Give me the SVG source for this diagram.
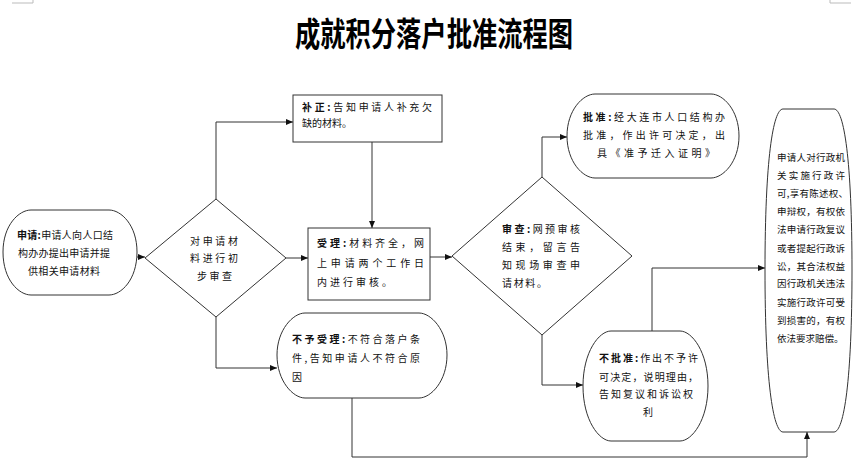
<svg xmlns="http://www.w3.org/2000/svg" width="860" height="468" viewBox="0 0 860 468">
<style>
.shape{fill:#fff;stroke:#333;stroke-width:1}
.conn{fill:none;stroke:#333;stroke-width:1}
.t{font-family:"Noto Sans CJK SC","Noto Sans",sans-serif;font-size:10px;fill:#111}
.r{font-size:9.5px}
.b{font-weight:bold}
.title{font-family:"Noto Sans CJK SC","Noto Sans",sans-serif;font-size:33px;font-weight:bold;fill:#000}
.corner{fill:none;stroke:#bbb;stroke-width:1}
</style>
<defs>
<marker id="arr" markerWidth="8" markerHeight="8" refX="7" refY="4" orient="auto" markerUnits="userSpaceOnUse">
<path d="M0,1 L7,4 L0,7 Z" fill="#111"/>
</marker>
</defs>
<rect width="860" height="468" fill="#fff"/>
<polyline class="corner" points="12,3 33,3 33,0"/>
<polyline class="corner" points="851,3 830,3 830,0"/>
<text class="title" x="295" y="46" textLength="278" lengthAdjust="spacingAndGlyphs">成就积分落户批准流程图</text>

<g id="connectors">
<path class="conn" d="M137,257 H145" marker-end="url(#arr)"/>
<path class="conn" d="M216,199 V122 H293" marker-end="url(#arr)"/>
<path class="conn" d="M372,142 V228" marker-end="url(#arr)"/>
<path class="conn" d="M286,258 H308" marker-end="url(#arr)"/>
<path class="conn" d="M216,317 V368 H277" marker-end="url(#arr)"/>
<path class="conn" d="M430,257 H452" marker-end="url(#arr)"/>
<path class="conn" d="M542,177 V137 H567" marker-end="url(#arr)"/>
<path class="conn" d="M542,335 V385 H583" marker-end="url(#arr)"/>
<path class="conn" d="M652,331 V268 H765" marker-end="url(#arr)"/>
<path class="conn" d="M352,398 V457 H807 V432" marker-end="url(#arr)"/>
</g>

<g id="node-apply">
<path class="shape" d="M31,210 H109 C121,210 137,225 137,252 C137,280 121,295 109,295 H31 C19,295 3,280 3,252 C3,225 19,210 31,210 Z"/>
<text class="t" x="17" y="239" textLength="96"><tspan class="b">申请:</tspan>申请人向人口结</text>
<text class="t" x="18" y="257" textLength="92">构办办提出申请并提</text>
<text class="t" x="28" y="275" textLength="72">供相关申请材料</text>
</g>

<g id="node-check">
<polygon class="shape" points="216,199 286,258 216,317 145,258"/>
<text class="t" x="190" y="245" textLength="48">对申请材</text>
<text class="t" x="190" y="262" textLength="48">料进行初</text>
<text class="t" x="197" y="280" textLength="35">步审查</text>
</g>

<g id="node-supplement">
<rect class="shape" x="293" y="95" width="149" height="47"/>
<text class="t" x="302" y="111" textLength="130"><tspan class="b">补正:</tspan>告知申请人补充欠</text>
<text class="t" x="302" y="127">缺的材料。</text>
</g>

<g id="node-accept">
<rect class="shape" x="308" y="228" width="122" height="72"/>
<text class="t" x="317" y="247" textLength="107"><tspan class="b">受理:</tspan>材料齐全，网</text>
<text class="t" x="317" y="267" textLength="107">上申请两个工作日</text>
<text class="t" x="317" y="286" textLength="75">内进行审核。</text>
</g>

<g id="node-reject-accept">
<path class="shape" d="M305,313 H419 C431,313 447,330 447,355 C447,381 431,398 419,398 H305 C293,398 277,381 277,355 C277,330 293,313 305,313 Z"/>
<text class="t" x="292" y="343" textLength="128"><tspan class="b">不予受理:</tspan>不符合落户条</text>
<text class="t" x="292" y="362" textLength="128">件,告知申请人不符合原</text>
<text class="t" x="292" y="381">因</text>
</g>

<g id="node-review">
<polygon class="shape" points="542,177 632,256 542,335 452,256"/>
<text class="t" x="502" y="233" textLength="78"><tspan class="b">审查:</tspan>网预审核</text>
<text class="t" x="502" y="251" textLength="78">结束，留言告</text>
<text class="t" x="502" y="269" textLength="78">知现场审查申</text>
<text class="t" x="502" y="287" textLength="45">请材料。</text>
</g>

<g id="node-approve">
<path class="shape" d="M595,94 H711 C723,94 739,110 739,136 C739,162 723,178 711,178 H595 C583,178 567,162 567,136 C567,110 583,94 595,94 Z"/>
<text class="t" x="583" y="121" textLength="142"><tspan class="b">批准:</tspan>经大连市人口结构办</text>
<text class="t" x="583" y="139" textLength="142">批准，作出许可决定，出</text>
<text class="t" x="597" y="157" textLength="118">具《准予迁入证明》</text>
</g>

<g id="node-deny">
<path class="shape" d="M611,331 H680 C692,331 708,352 708,386 C708,420 692,441 680,441 H611 C599,441 583,420 583,386 C583,352 599,331 611,331 Z"/>
<text class="t" x="599" y="362" textLength="99"><tspan class="b">不批准:</tspan>作出不予许</text>
<text class="t" x="599" y="381" textLength="99">可决定，说明理由，</text>
<text class="t" x="599" y="398" textLength="94">告知复议和诉讼权</text>
<text class="t" x="648" y="416" text-anchor="middle">利</text>
</g>

<g id="node-rights">
<path class="shape" d="M783,109 H834 C844,109 852,160 852,270 C852,380 844,432 834,432 H783 C773,432 765,380 765,270 C765,160 773,109 783,109 Z"/>
<text class="t r" x="777" y="161" textLength="68">申请人对行政机</text>
<text class="t r" x="777" y="179" textLength="68">关实施行政许</text>
<text class="t r" x="777" y="197" textLength="71">可,享有陈述权、</text>
<text class="t r" x="777" y="215" textLength="68">申辩权，有权依</text>
<text class="t r" x="777" y="233" textLength="68">法申请行政复议</text>
<text class="t r" x="777" y="252" textLength="68">或者提起行政诉</text>
<text class="t r" x="777" y="270" textLength="68">讼，其合法权益</text>
<text class="t r" x="777" y="287" textLength="68">因行政机关违法</text>
<text class="t r" x="777" y="306" textLength="68">实施行政许可受</text>
<text class="t r" x="777" y="324" textLength="68">到损害的，有权</text>
<text class="t r" x="777" y="342">依法要求赔偿。</text>
</g>
</svg>
